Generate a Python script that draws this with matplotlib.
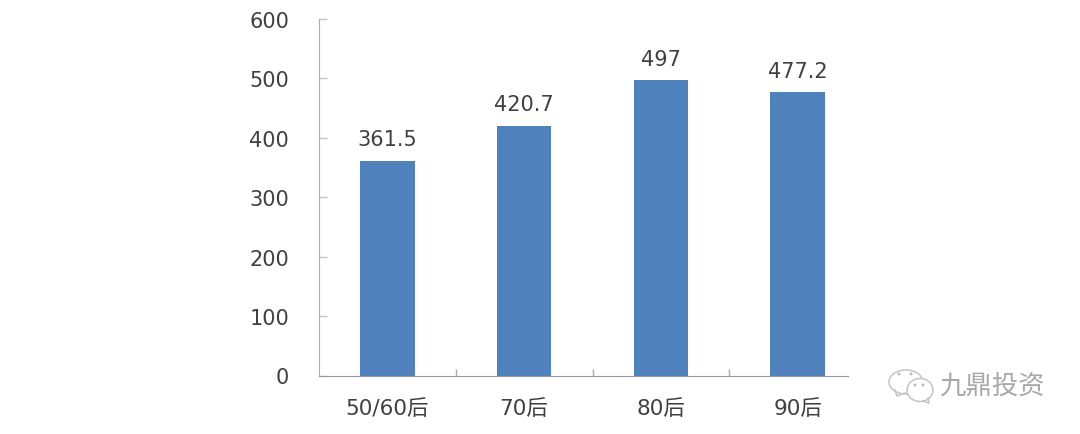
import matplotlib
matplotlib.use('Agg')
import matplotlib.pyplot as plt
from matplotlib.lines import Line2D
from matplotlib.patches import Ellipse

plt.rcParams['font.family'] = ['DejaVu Sans', 'Noto Sans CJK SC']

categories = ['50/60后', '70后', '80后', '90后']
values = [361.5, 420.7, 497, 477.2]
value_labels = ['361.5', '420.7', '497', '477.2']
y_ticks = [0, 100, 200, 300, 400, 500, 600]
watermark = '九鼎投资'


def px(x, y):
    # pixel position in the picture -> figure fraction
    return x / 1080, 1 - y / 435


def draw_logo(fig):
    # wechat style bubbles next to the watermark
    for bx, by, w, h in [(906, 383, 34, 24), (920, 391, 26, 23)]:
        fig.add_artist(Ellipse(px(bx, by), w / 1080, h / 435, transform=fig.transFigure,
                               facecolor='white', edgecolor='#c4c4c4', linewidth=1.1))
    for tail in [[(895, 391), (897, 397), (905, 394)], [(923, 402), (929, 404), (928, 399)]]:
        points = [px(*p) for p in tail]
        fig.add_artist(Line2D([p[0] for p in points], [p[1] for p in points], transform=fig.transFigure,
                              color='#c4c4c4', linewidth=1.1))
    for dx, dy in [(899, 375), (911, 375), (915, 386), (923, 386)]:
        fig.add_artist(Ellipse(px(dx, dy), 3 / 1080, 3 / 435, transform=fig.transFigure,
                               facecolor='#bcbcbc', edgecolor='none'))


def main():
    fig = plt.figure(figsize=(10.8, 4.35), dpi=100)
    ax = fig.add_axes([319 / 1080, 1 - 376.5 / 435, (866 - 319) / 1080, (376.5 - 20) / 435])

    xs = range(len(categories))
    ax.bar(xs, values, width=0.4, color='#4f81bd')
    for x, v, s in zip(xs, values, value_labels):
        ax.text(x, v + 19, s, ha='center', va='bottom', fontsize=15, color='#404040')

    ax.set_xlim(-0.5, 3.5)
    ax.set_ylim(0, 600)
    ax.set_yticks(y_ticks)
    ax.set_xticks([0.5, 1.5, 2.5])
    ax.set_xticklabels([])
    ax.set_xticks(list(xs), minor=True)
    ax.set_xticklabels(categories, minor=True)
    ax.tick_params(axis='x', which='major', direction='in', length=5, color='#aaaaaa', width=1)
    ax.tick_params(axis='x', which='minor', length=0, pad=16, labelsize=15.5, labelcolor='#404040')
    ax.tick_params(axis='y', direction='in', length=6, color='#c4c4c4', width=1, pad=21.5, labelsize=15,
                   labelcolor='#404040')

    ax.spines['top'].set_visible(False)
    ax.spines['right'].set_visible(False)
    ax.spines['left'].set_color('#aaaaaa')
    ax.spines['bottom'].set_color('#999999')
    ax.spines['bottom'].set_bounds(-0.5, 3.37)

    draw_logo(fig)
    fig.text(*px(939, 387), watermark, ha='left', va='center', fontsize=19, color='#a8a8a8')
    fig.savefig('out.png', dpi=100)


if __name__ == '__main__':
    main()
